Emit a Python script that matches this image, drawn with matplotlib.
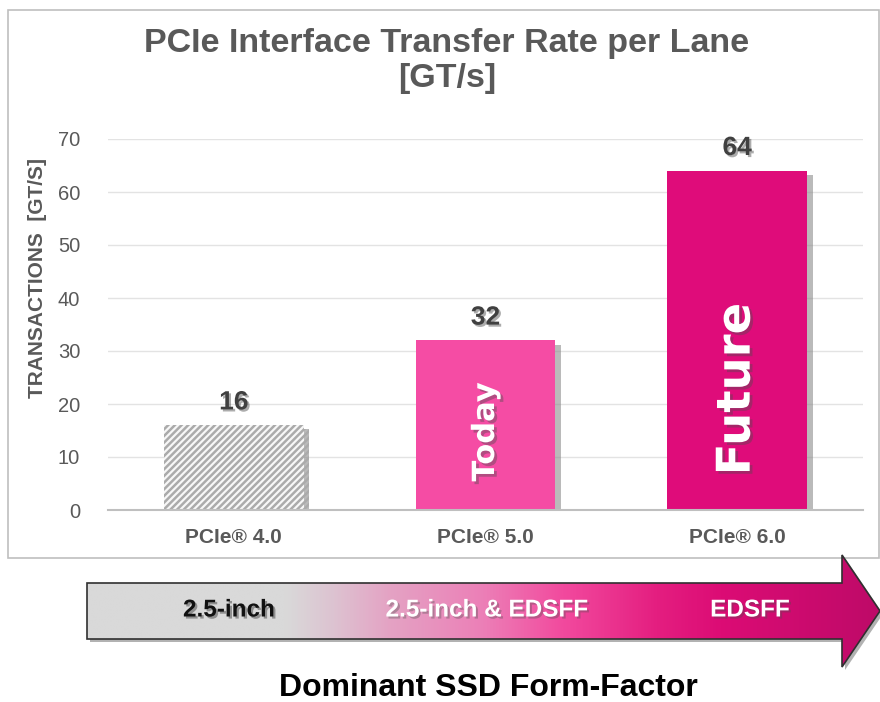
import numpy as np
import matplotlib
matplotlib.use('Agg')
import matplotlib.pyplot as plt
import matplotlib.patheffects as pe
from matplotlib.patches import Polygon, Rectangle
from matplotlib.colors import LinearSegmentedColormap

plt.rcParams['font.family'] = ['Liberation Sans', 'DejaVu Sans']
plt.rcParams['hatch.linewidth'] = 1.8

# data
generations = ['PCIe® 4.0', 'PCIe® 5.0', 'PCIe® 6.0']
rates = [16, 32, 64]
bar_tags = ['', 'Today', 'Future']
form_factors = ['2.5-inch', '2.5-inch & EDSFF', 'EDSFF']
yticks = [0, 10, 20, 30, 40, 50, 60, 70]

title = 'PCIe Interface Transfer Rate per Lane\n[GT/s]'
ylabel = 'TRANSACTIONS  [GT/S]'
caption = 'Dominant SSD Form-Factor'

W, H = 880, 702


def main():
    fig = plt.figure(figsize=(W / 100, H / 100), dpi=100)

    # overlay in pixel coordinates for frame, title, arrow
    ov = fig.add_axes([0, 0, 1, 1])
    ov.axis('off')

    ov.add_patch(Rectangle((8, 10), 871, 548, fill=False, ec='#bfbfbf', lw=1.2))
    ov.text(447, 61, title, ha='center', va='center', fontsize=24.5,
            fontweight='bold', color='#595959', linespacing=1.2)
    ov.text(38, 278, ylabel, rotation=90, ha='center', va='center',
            fontsize=15, fontweight='bold', color='#595959')

    # gradient arrow
    pts = np.array([(87, 583), (842, 583), (842, 555), (880, 611), (842, 667),
                    (842, 639), (87, 639)], dtype=float)
    ov.add_patch(Polygon(pts + [3, 3], closed=True, fc='#555555', ec='none',
                         alpha=0.45, zorder=0.5))
    arrow = Polygon(pts, closed=True, fc='none', ec='#303030', lw=1.2, zorder=2)
    ov.add_patch(arrow)
    stops = [(0.0, '#d9d9d9'), (0.25, '#d9d9d9'), (0.31, '#ddc3d1'),
             (0.38, '#e4a3c4'), (0.50, '#ec7fb7'), (0.60, '#f24a9e'),
             (0.72, '#e41e80'), (0.80, '#dc0c75'), (1.0, '#be0a68')]
    cmap = LinearSegmentedColormap.from_list('arrow', stops)
    grad = np.linspace(0, 1, 512)[None, :]
    im = ov.imshow(grad, cmap=cmap, extent=[87, 880, 667, 555], aspect='auto',
                   interpolation='bilinear', zorder=1)
    im.set_clip_path(arrow)
    ov.set_xlim(0, W)
    ov.set_ylim(H, 0)

    shadow = [pe.withSimplePatchShadow(offset=(1.5, -1.5), alpha=0.35)]
    ff_x = [229, 487, 750]
    ff_col = ['#111111', 'white', 'white']
    for x, txt, c in zip(ff_x, form_factors, ff_col):
        ov.text(x, 610, txt, ha='center', va='center', fontsize=17.5,
                fontweight='bold', color=c, path_effects=shadow, zorder=3)
    ov.text(488, 688, caption, ha='center', va='center', fontsize=23,
            fontweight='bold', color='black')

    # main bar chart
    ax = fig.add_axes([108 / W, 1 - 510 / H, (863 - 108) / W, (510 - 139) / H])
    ax.set_facecolor('none')
    x = np.arange(len(rates))
    bar_shadow = [pe.SimplePatchShadow(offset=(4, -3), shadow_rgbFace='#8c8c8c', alpha=0.6),
                  pe.Normal()]
    faces = ['#f7f7f7', '#f54ca4', '#df0c7a']
    bars = ax.bar(x, rates, width=0.556, color=faces, lw=0, zorder=3)
    for b in bars:
        b.set_path_effects(bar_shadow)
    bars[0].set_hatch('/////')
    bars[0].set_edgecolor('#ababab')
    bars[0].set_linewidth(0)

    for xi, v in zip(x, rates):
        ax.text(xi, v + 4.3, str(v), ha='center', va='center', fontsize=19,
                fontweight='bold', color='#404040', path_effects=shadow, zorder=5)

    tag_y = [0, 14.7, 22.8]
    tag_size = [0, 22, 33.5]
    for xi, tag, ty, fs in zip(x, bar_tags, tag_y, tag_size):
        if tag:
            ax.text(xi, ty, tag, rotation=90, ha='center', va='center',
                    fontsize=fs, fontweight='heavy', color='white',
                    family='DejaVu Sans', zorder=5,
                    path_effects=[pe.withSimplePatchShadow(offset=(2, -2), alpha=0.4)])

    ax.set_xlim(-0.5, 2.5)
    ax.set_ylim(0, 70)
    ax.set_yticks(yticks)
    ax.set_xticks(x)
    ax.set_xticklabels(generations, fontsize=15, fontweight='bold', color='#595959')
    ax.tick_params(axis='y', length=0, pad=20, labelsize=14.5, labelcolor='#595959')
    ax.tick_params(axis='x', length=0, pad=13)
    ax.grid(axis='y', color='#e3e3e3', lw=1, zorder=0)
    for s in ['top', 'right', 'left']:
        ax.spines[s].set_visible(False)
    ax.spines['bottom'].set_color('#bfbfbf')
    ax.spines['bottom'].set_linewidth(1.5)
    ax.spines['bottom'].set_zorder(4)

    fig.savefig('out.png', dpi=100)


if __name__ == '__main__':
    main()
